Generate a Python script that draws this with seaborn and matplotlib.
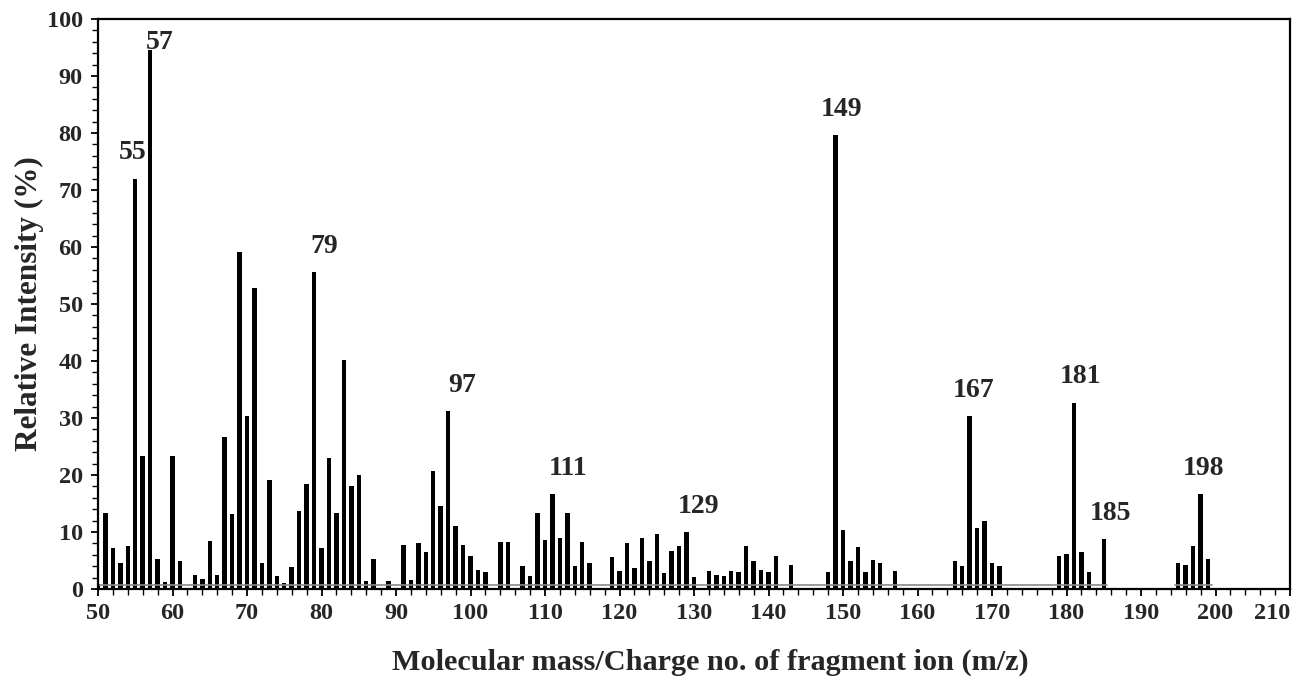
import matplotlib
matplotlib.use("Agg")
import matplotlib.pyplot as plt
from matplotlib.ticker import MultipleLocator
import numpy as np
import pandas as pd
import seaborn as sns

# Fragment ions (m/z) and their relative intensities (%)
mz = [50, 51, 52, 53, 54, 55, 56, 57, 58, 59, 60, 61, 63, 64, 65, 66, 67, 68, 69, 70,
      71, 72, 73, 74, 75, 76, 77, 78, 79, 80, 81, 82, 83, 84, 85, 86, 87, 89, 91, 92,
      93, 94, 95, 96, 97, 98, 99, 100, 101, 102, 104, 105, 107, 108, 109, 110, 111, 112, 113, 114,
      115, 116, 119, 120, 121, 122, 123, 124, 125, 126, 127, 128, 129, 130, 132, 133, 134, 135, 136, 137,
      138, 139, 140, 141, 143, 148, 149, 150, 151, 152, 153, 154, 155, 157, 165, 166, 167, 168, 169, 170,
      171, 179, 180, 181, 182, 183, 185, 195, 196, 197, 198, 199]
intensity = [0.8, 13.3, 7.2, 4.6, 7.6, 72.0, 23.4, 94.6, 5.3, 1.2, 23.3, 4.9, 2.5, 1.8, 8.4, 2.5, 26.6, 13.2, 59.2, 30.3,
             52.8, 4.5, 19.1, 2.2, 1.0, 3.9, 13.7, 18.4, 55.6, 7.2, 22.9, 13.4, 40.1, 18.0, 20.0, 1.4, 5.3, 1.4, 7.8, 1.5,
             8.0, 6.5, 20.7, 14.6, 31.2, 11.1, 7.8, 5.8, 3.4, 2.9, 8.3, 8.3, 4.0, 2.2, 13.3, 8.6, 16.6, 8.9, 13.3, 4.0,
             8.2, 4.5, 5.6, 3.2, 8.0, 3.6, 8.9, 4.9, 9.7, 2.8, 6.6, 7.6, 10.0, 2.1, 3.2, 2.5, 2.2, 3.1, 3.0, 7.5,
             4.9, 3.3, 2.9, 5.8, 4.2, 2.9, 79.6, 10.3, 4.9, 7.3, 2.9, 5.1, 4.5, 3.2, 4.9, 4.0, 30.4, 10.7, 11.9, 4.6,
             4.0, 5.8, 6.2, 32.7, 6.5, 3.0, 8.8, 4.5, 4.2, 7.5, 16.6, 5.3]

# Peaks that carry an m/z label
labelled_peaks = [55, 57, 79, 97, 111, 129, 149, 167, 181, 185, 198]

x_ticks = list(range(50, 211, 10))
y_ticks = list(range(0, 101, 10))

# label nudges (points) so the numbers clear neighbouring sticks
label_dx = {55: -2, 57: 7, 79: 7, 97: 10, 111: 11, 129: 9, 149: 4, 167: 3, 181: 5, 185: 5, 198: 2}
label_dy = {57: -4}

spectrum = pd.DataFrame({"mz": mz, "intensity": intensity})

sns.set_style("ticks")
plt.rcParams["font.family"] = ["Liberation Serif", "DejaVu Serif"]
plt.rcParams["font.weight"] = "bold"
plt.rcParams["axes.labelweight"] = "bold"

W, H = 1295, 696
fig = plt.figure(figsize=(W / 100, H / 100), dpi=100)
ax = fig.add_axes([98 / W, 1 - 589 / H, (1290 - 98) / W, (589 - 19) / H])

sns.barplot(data=spectrum, x="mz", y="intensity", native_scale=True, width=0.6,
            color="black", saturation=1, errorbar=None, edgecolor="none", ax=ax)

# thin grey baseline under each cluster of fragment ions
arr = np.asarray(mz)
breaks = np.where(np.diff(arr) > 9)[0]
starts = np.r_[arr[0], arr[breaks + 1]]
ends = np.r_[arr[breaks], arr[-1]]
for s, e in zip(starts, ends):
    ax.plot([s - 0.5, e + 0.5], [0.7, 0.7], color="#8a8a8a", lw=1.2, zorder=1)

# m/z labels above the main peaks
lookup = dict(zip(mz, intensity))
for p in labelled_peaks:
    ax.annotate(str(p), xy=(p, lookup[p]),
                xytext=(label_dx.get(p, 0), label_dy.get(p, 9.5)), textcoords="offset points",
                ha="center", va="bottom", fontsize=20, fontweight="bold")

ax.set_xlim(50, 210)
ax.set_ylim(0, 100)
ax.set_xticks(x_ticks)
ax.set_yticks(y_ticks)
ax.xaxis.set_minor_locator(MultipleLocator(2))
ax.yaxis.set_minor_locator(MultipleLocator(2))
ax.tick_params(axis="both", which="major", direction="out", length=5, width=1.3,
               labelsize=17.5, color="black")
ax.tick_params(axis="both", which="minor", direction="out", length=4, width=1.0, color="black")
ax.tick_params(axis="x", which="major", pad=5)
ax.tick_params(axis="y", which="major", pad=6)
for lab in ax.get_xticklabels() + ax.get_yticklabels():
    lab.set_fontweight("bold")
# keep the last x tick label inside the figure
ax.get_xticklabels()[-1].set_horizontalalignment("right")

for side in ["top", "right", "bottom", "left"]:
    ax.spines[side].set_visible(True)
    ax.spines[side].set_linewidth(1.6)
    ax.spines[side].set_color("black")

ax.set_xlabel("Molecular mass/Charge no. of fragment ion (m/z)", fontsize=21.8, fontweight="bold")
ax.set_ylabel("Relative Intensity (%)", fontsize=22.5, fontweight="bold")
ax.xaxis.set_label_coords((710 - 98) / (1290 - 98), (589 - 649) / (589 - 19))
ax.yaxis.set_label_coords((44 - 98) / (1290 - 98), 0.5)

fig.savefig("out.png", dpi=100)
